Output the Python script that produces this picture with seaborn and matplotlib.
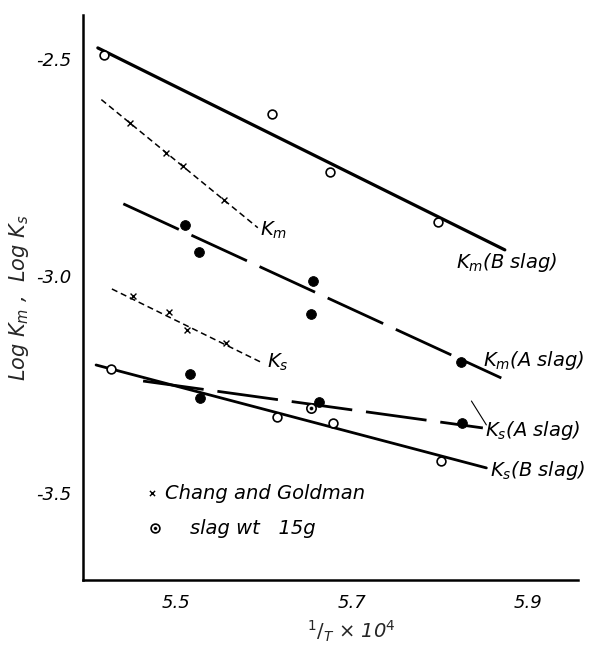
import matplotlib
matplotlib.use("Agg")
import matplotlib.pyplot as plt
import seaborn as sns
import pandas as pd

# ---- data ----
kmB_x = [5.418, 5.609, 5.675, 5.798]
kmB_y = [-2.491, -2.627, -2.760, -2.876]
kmB_fit_x = [5.411, 5.874]
kmB_fit_y = [-2.475, -2.940]

kmA_x = [5.510, 5.526, 5.656, 5.653, 5.824]
kmA_y = [-2.882, -2.945, -3.012, -3.088, -3.198]
kmA_fit_x = [5.440, 5.870]
kmA_fit_y = [-2.834, -3.235]

cgKm_x = [5.448, 5.489, 5.508, 5.555]
cgKm_y = [-2.647, -2.717, -2.747, -2.825]
cgKm_fit_x = [5.415, 5.593]
cgKm_fit_y = [-2.594, -2.889]

cgKs_x = [5.451, 5.492, 5.5125, 5.557]
cgKs_y = [-3.046, -3.083, -3.124, -3.154]
cgKs_fit_x = [5.427, 5.598]
cgKs_fit_y = [-3.030, -3.200]

ksB_x = [5.426, 5.615, 5.678, 5.801]
ksB_y = [-3.214, -3.325, -3.339, -3.426]
ksB_fit_x = [5.409, 5.853]
ksB_fit_y = [-3.205, -3.442]

ksA_x = [5.516, 5.527, 5.663, 5.825]
ksA_y = [-3.226, -3.281, -3.290, -3.339]
ksA_fit_x = [5.4625, 5.849]
ksA_fit_y = [-3.242, -3.350]

slag15_x = [5.653]
slag15_y = [-3.304]

x_ticks = [5.5, 5.7, 5.9]
y_ticks = [-2.5, -3.0, -3.5]

# ---- plotting ----
sns.set_theme(style="white")
plt.rcParams['font.family'] = ['DejaVu Sans']

fig = plt.figure(figsize=(5.92, 6.48), dpi=100)
ax = fig.add_axes([0.140, 0.105, 0.836, 0.872])

def line(xs, ys, **kw):
    sns.lineplot(x=xs, y=ys, ax=ax, color="black", sort=False, **kw)

line(kmB_fit_x, kmB_fit_y, linewidth=2.3)
line(ksB_fit_x, ksB_fit_y, linewidth=2.0)
line(kmA_fit_x, kmA_fit_y, linewidth=2.0, dashes=(22, 5))
line(ksA_fit_x, ksA_fit_y, linewidth=2.0, dashes=(22, 5))
line(cgKm_fit_x, cgKm_fit_y, linewidth=1.1, dashes=(4, 2.5))
line(cgKs_fit_x, cgKs_fit_y, linewidth=1.1, dashes=(4, 2.5))

sns.scatterplot(x=kmB_x, y=kmB_y, ax=ax, marker="o", s=40, facecolor="white",
                edgecolor="black", linewidth=1.2, zorder=5)
sns.scatterplot(x=ksB_x, y=ksB_y, ax=ax, marker="o", s=40, facecolor="white",
                edgecolor="black", linewidth=1.2, zorder=5)
sns.scatterplot(x=kmA_x, y=kmA_y, ax=ax, marker="o", s=50, color="black",
                edgecolor="black", zorder=5)
sns.scatterplot(x=ksA_x, y=ksA_y, ax=ax, marker="o", s=50, color="black",
                edgecolor="black", zorder=5)
sns.scatterplot(x=cgKm_x, y=cgKm_y, ax=ax, marker="x", s=18, color="black",
                linewidth=1.0, zorder=5)
sns.scatterplot(x=cgKs_x, y=cgKs_y, ax=ax, marker="x", s=18, color="black",
                linewidth=1.0, zorder=5)
sns.scatterplot(x=slag15_x, y=slag15_y, ax=ax, marker="o", s=45, facecolor="white",
                edgecolor="black", linewidth=1.2, zorder=6)
sns.scatterplot(x=slag15_x, y=slag15_y, ax=ax, marker="o", s=8, color="black",
                zorder=7)

ax.set_xlim(5.394, 5.957)
ax.set_ylim(-3.70, -2.399)
ax.set_xticks(x_ticks)
ax.set_yticks(y_ticks)
ax.set_xticklabels([f"{v:.1f}" for v in x_ticks], fontsize=13, style="italic")
ax.set_yticklabels([f"{v:.1f}" for v in y_ticks], fontsize=13, style="italic")
ax.tick_params(axis="x", direction="in", length=6, width=1.2, pad=10, colors="black")
ax.tick_params(axis="y", direction="out", length=5, width=1.2, pad=3, colors="black")
for s in ["top", "right"]:
    ax.spines[s].set_visible(False)
for s in ["left", "bottom"]:
    ax.spines[s].set_color("black")
    ax.spines[s].set_linewidth(1.8)

ax.set_xlabel("$^1/_T$ × 10$^4$", fontsize=14, style="italic")
ax.xaxis.set_label_coords(0.543, -0.068)
ax.set_ylabel("Log $K_m$ ,  Log $K_s$", fontsize=15, style="italic")
ax.yaxis.set_label_coords(-0.104, 0.50)

tk = dict(fontsize=14, style="italic", color="black")
ax.text(5.819, -2.970, "$K_m$(B slag)", va="center", **tk)
ax.text(5.849, -3.194, "$K_m$(A slag)", va="center", **tk)
ax.text(5.851, -3.355, "$K_s$(A slag)", va="center", **tk)
ax.text(5.857, -3.447, "$K_s$(B slag)", va="center", **tk)
ax.text(5.595, -2.894, "$K_m$", va="center", **tk)
ax.text(5.603, -3.198, "$K_s$", va="center", **tk)
ax.plot([5.836, 5.853], [-3.288, -3.343], color="black", linewidth=0.8)

sns.scatterplot(x=[5.473], y=[-3.5], ax=ax, marker="x", s=14, color="black", linewidth=1.0)
ax.text(5.487, -3.5, "Chang and Goldman", va="center", **tk)
sns.scatterplot(x=[5.476], y=[-3.581], ax=ax, marker="o", s=40, facecolor="white",
                edgecolor="black", linewidth=1.2)
sns.scatterplot(x=[5.476], y=[-3.581], ax=ax, marker="o", s=7, color="black")
ax.text(5.516, -3.581, "slag wt   15g", va="center", **tk)

fig.savefig("out.png", dpi=100)
